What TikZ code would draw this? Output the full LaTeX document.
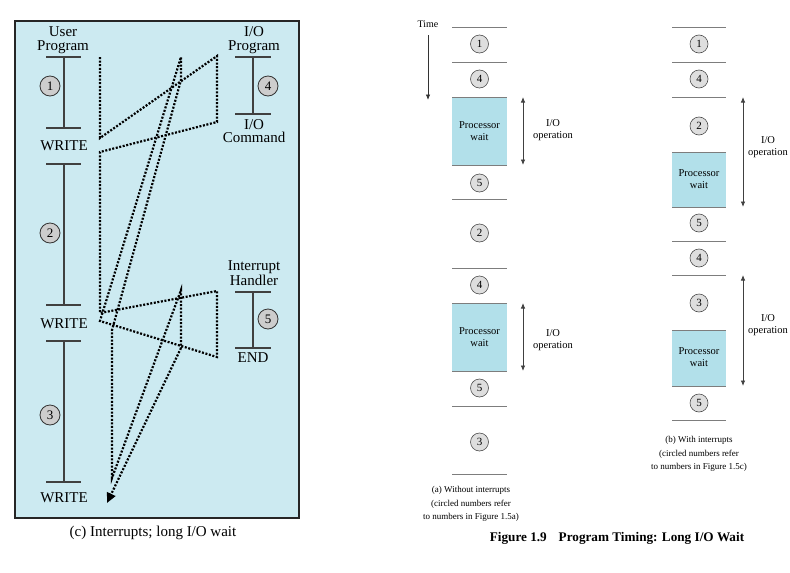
\documentclass[tikz,border=0pt]{standalone}
\usepackage{fontspec}
\setmainfont{Liberation Serif}
\usetikzlibrary{arrows.meta}
\definecolor{panelblue}{RGB}{204,234,241}
\definecolor{waitblue}{RGB}{178,224,234}
\definecolor{circgray}{RGB}{205,205,205}
\definecolor{circgrayb}{RGB}{222,222,222}
\definecolor{rulegray}{RGB}{125,125,125}
\begin{document}
\begin{tikzpicture}[x=1pt,y=-1pt,
  lbl/.style={inner sep=0pt, align=center, font=\fontsize{15}{13.5}\selectfont},
  bar/.style={draw=black!75, line width=1.1pt},
  lnum/.style={circle, draw=black!80, line width=0.8pt, fill=circgray, minimum size=20pt, inner sep=0pt, font=\fontsize{13}{13}\selectfont},
  rnum/.style={circle, draw=black!70, line width=0.6pt, fill=circgrayb, minimum size=18pt, inner sep=0pt, font=\fontsize{11}{11}\selectfont},
  flow/.style={line width=2.2pt, dash pattern=on 2pt off 1.6pt},
  tl/.style={draw=rulegray, line width=0.8pt},
  small/.style={inner sep=0pt, align=center, font=\fontsize{10.5}{12.5}\selectfont},
  captxt/.style={inner sep=0pt, align=center, font=\fontsize{9}{13.5}\selectfont},
  iop/.style={draw=black!75, line width=0.8pt, {Latex[length=5.5pt,width=4.5pt]}-{Latex[length=5.5pt,width=4.5pt]}}
]
\fill[white] (0,0) rectangle (790,573);
\useasboundingbox (0,0) rectangle (790,573);

% ---------------- left panel ----------------
\draw[line width=2pt, draw=black!85, fill=panelblue] (15,21) rectangle (299,518);

\node[lbl] (up) at (63,40) {User\\Program};
\draw[bar] (46,57) -- (81,57);
\draw[bar] (64,57) -- (64,128);
\draw[bar] (46,128) -- (81,128);
\node[lnum] (c1) at (50,86) {1};
\node[lbl] (w1) at (64,146) {WRITE};
\draw[bar] (46,164) -- (81,164);
\draw[bar] (64,164) -- (64,305);
\draw[bar] (46,305) -- (81,305);
\node[lnum] (c2) at (50,233) {2};
\node[lbl] (w2) at (64,324) {WRITE};
\draw[bar] (46,341) -- (81,341);
\draw[bar] (64,341) -- (64,482);
\draw[bar] (46,482) -- (81,482);
\node[lnum] (c3) at (50,415) {3};
\node[lbl] (w3) at (64,498) {WRITE};

\node[lbl] (iop) at (254,40) {I/O\\Program};
\draw[bar] (235,57) -- (271,57);
\draw[bar] (253,57) -- (253,114);
\draw[bar] (235,114) -- (271,114);
\node[lnum] (c4) at (268,86) {4};
\node[lbl] (ioc) at (254,131) {I/O\\Command};

\node[lbl] (ih) at (254,273) {Interrupt\\Handler};
\draw[bar] (235,292) -- (271,292);
\draw[bar] (253,292) -- (253,348);
\draw[bar] (235,348) -- (271,348);
\node[lnum] (c5) at (268,319) {5};
\node[lbl] (end) at (253,358) {END};

\node[lbl] (capc) at (153,533) {(c) Interrupts; long I/O wait};

% dotted execution path
\coordinate (p1) at (100,57);
\coordinate (p2) at (100,138);
\coordinate (p3) at (217,56);
\coordinate (p4) at (217,122);
\coordinate (p5) at (100,152);
\coordinate (p6) at (100,313);
\coordinate (p7) at (217,291);
\coordinate (p8) at (217,357);
\coordinate (p9) at (100,321);
\coordinate (p10) at (181,57);
\coordinate (p11) at (181,80);
\coordinate (p12) at (112,330);
\coordinate (p13) at (112,478);
\coordinate (p14) at (181,290);
\coordinate (p15) at (181,348);
\coordinate (p16) at (107,503);
\draw[flow] (p1) -- (p2) -- (p3) -- (p4) -- (p5) -- (p6) -- (p7) -- (p8) -- (p9) -- (p10) -- (p11) -- (p12) -- (p13) -- (p14) -- (p15);
\draw[flow, -{Triangle[length=10pt,width=9pt]}] (p15) -- (p16);

% ---------------- right panel: (a) ----------------
\node[inner sep=0pt, font=\fontsize{10}{12}\selectfont] (time) at (428,24) {Time};
\draw[black!80, line width=0.8pt, -{Latex[length=5.5pt,width=4.5pt]}] (428,35) -- (428,100);

\fill[waitblue] (452,97) rectangle (507,165);
\fill[waitblue] (452,303) rectangle (507,371);
\foreach \y in {27,62,97,165,199,268,303,371,406,474} \draw[tl] (452,\y) -- (507,\y);
\node[small] (pwa1) at (479.5,131) {Processor\\wait};
\node[small] (pwa2) at (479.5,337) {Processor\\wait};
\node[rnum] (a1) at (479.5,44) {1};
\node[rnum] (a4) at (479.5,79) {4};
\node[rnum] (a5) at (479.5,183) {5};
\node[rnum] (a2) at (479.5,233) {2};
\node[rnum] (a4b) at (479.5,285) {4};
\node[rnum] (a5b) at (479.5,388) {5};
\node[rnum] (a3) at (479.5,442) {3};
\draw[iop] (523,97) -- (523,165);
\draw[iop] (523,303) -- (523,371);
\node[small] (ioa1) at (553,130) {I/O\\operation};
\node[small] (ioa2) at (553,340) {I/O\\operation};
\node[captxt] (capa) at (471,504) {(a) Without interrupts\\(circled numbers refer\\to numbers in Figure 1.5a)};

% ---------------- right panel: (b) ----------------
\fill[waitblue] (672,152) rectangle (726,207);
\fill[waitblue] (672,330) rectangle (726,386);
\foreach \y in {27,62,97,152,207,241,275,330,386,420} \draw[tl] (672,\y) -- (726,\y);
\node[small] (pwb1) at (699,179) {Processor\\wait};
\node[small] (pwb2) at (699,357) {Processor\\wait};
\node[rnum] (b1) at (699,44) {1};
\node[rnum] (b4) at (699,79) {4};
\node[rnum] (b2) at (699,126) {2};
\node[rnum] (b5) at (699,223) {5};
\node[rnum] (b4b) at (699,258) {4};
\node[rnum] (b3) at (699,303) {3};
\node[rnum] (b5b) at (699,403) {5};
\draw[iop] (743,97) -- (743,207);
\draw[iop] (743,275) -- (743,386);
\node[small] (iob1) at (768,147) {I/O\\operation};
\node[small] (iob2) at (768,325) {I/O\\operation};
\node[captxt] (capb) at (699,454) {(b) With interrupts\\(circled numbers refer\\to numbers in Figure 1.5c)};

\node[inner sep=0pt, font=\fontsize{13.2}{15}\selectfont\bfseries] (title) at (617,538) {Figure 1.9\hspace{0.9em}Program Timing: Long I/O Wait};
\end{tikzpicture}
\end{document}
